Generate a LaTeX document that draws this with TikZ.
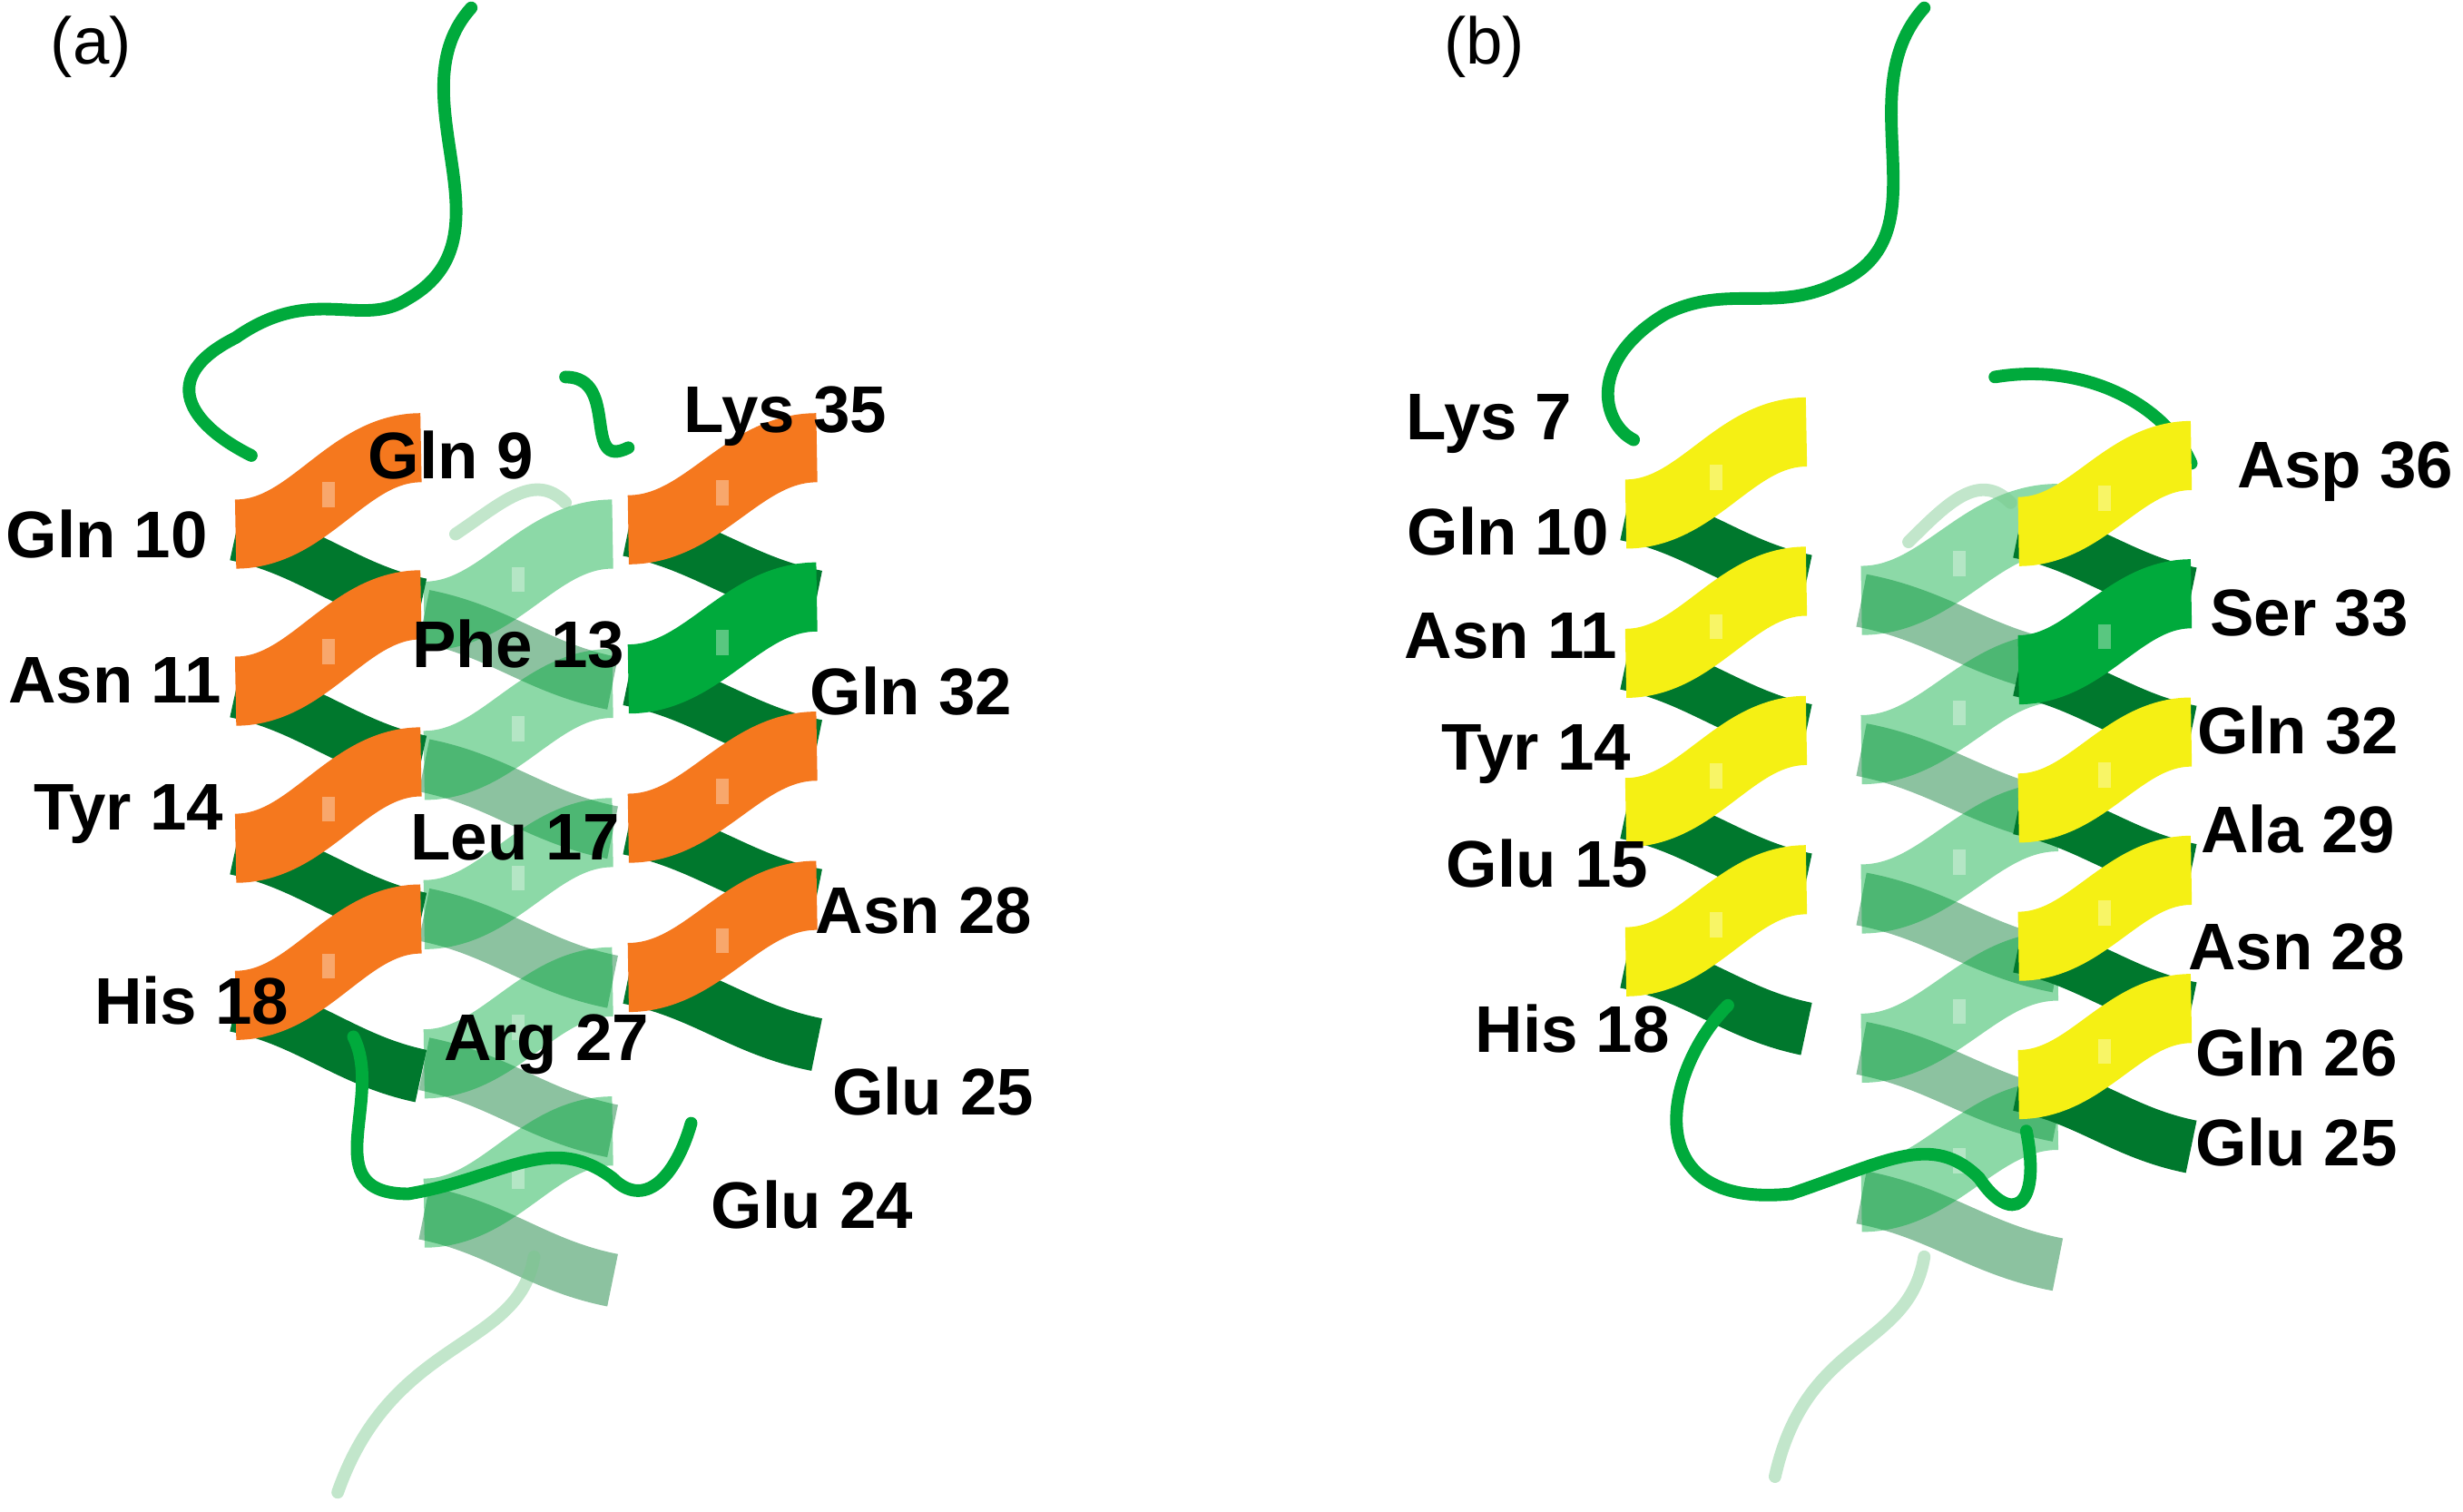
\documentclass[tikz,border=0pt]{standalone}
\usepackage{fontspec}
\setmainfont{Liberation Sans}
\definecolor{pg}{RGB}{0,170,60}
\definecolor{dg}{RGB}{0,120,45}
\definecolor{lg}{RGB}{120,200,140}
\definecolor{po}{RGB}{245,120,30}
\definecolor{py}{RGB}{245,240,20}
\tikzset{lbl/.style={font=\fontsize{21}{24}\selectfont\bfseries,inner sep=0pt},
 tag/.style={font=\fontsize{21}{24}\selectfont,inner sep=0pt},
 coil/.style={draw=pg,line width=4pt,line cap=round},
 fcoil/.style={draw=lg,line width=4pt,line cap=round}}
% helix: xL xR ytop pitch colors
\newcommand\myhelix[5]{%
 \foreach \c [count=\k from 0] in {#5} {
  \pgfmathsetmacro\ya{#3+\k*#4}
  \pgfmathsetmacro\yb{#3+(\k+1)*#4}
  \pgfmathsetmacro\ym{#3+(\k+0.55)*#4}
  \pgfmathsetmacro\w{(#2-#1)}
  \draw[dg,line width=17pt] (#2,\yb) .. controls (#2-\w*0.4,\yb-#4*0.1) and (#1+\w*0.4,\ym+#4*0.1) .. (#1,\ym);
  \draw[\c,line width=22pt] (#1,\ym) .. controls (#1+\w*0.4,\ym) and (#2-\w*0.4,\ya) .. (#2,\ya);
  \fill[white,opacity=0.35] (#1+\w*0.5-4,\ya+#4*0.22) rectangle ++(8,16);
 }}
\begin{document}
\begin{tikzpicture}[x=0.5pt,y=-0.5pt]
\useasboundingbox (0,0) rectangle (1568,962);
% ===== panel a =====
\begin{scope}
\draw[coil] (300,5) .. controls (250,60) and (330,150) .. (260,190) .. controls (230,210) and (200,180) .. (150,215) .. controls (100,240) and (120,270) .. (160,290);
\begin{scope}[opacity=0.45]
\myhelix{270}{390}{340}{95}{pg,pg,pg,pg,pg}
\draw[fcoil] (290,340) .. controls (320,320) and (340,300) .. (360,320);
\draw[fcoil] (340,800) .. controls (330,860) and (250,850) .. (215,950);
\end{scope}
\draw[coil] (360,240) .. controls (395,240) and (370,300) .. (400,285);
\myhelix{150}{268}{285}{100}{po,po,po,po}
\myhelix{400}{520}{285}{95}{po,pg,po,po}
\draw[coil] (225,660) .. controls (245,700) and (200,760) .. (260,760) .. controls (320,750) and (350,720) .. (390,750) .. controls (410,770) and (430,750) .. (440,715);
\node[tag] (ta) at (58,30) {(a)};
\node[lbl] (a1) at (287,290) {Gln 9};
\node[lbl] (a2) at (500,265) {Lys 35};
\node[lbl] (a3) at (68,340) {Gln 10};
\node[lbl] (a4) at (330,410) {Phe 13};
\node[lbl] (a5) at (580,440) {Gln 32};
\node[lbl] (a6) at (73,433) {Asn 11};
\node[lbl] (a7) at (82,518) {Tyr 14};
\node[lbl] (a8) at (328,533) {Leu 17};
\node[lbl] (a9) at (588,580) {Asn 28};
\node[lbl] (a10) at (122,637) {His 18};
\node[lbl] (a11) at (348,665) {Arg 27};
\node[lbl] (a12) at (594,695) {Glu 25};
\node[lbl] (a13) at (517,767) {Glu 24};
\end{scope}
% ===== panel b =====
\begin{scope}
\draw[coil] (1225,5) .. controls (1175,60) and (1240,150) .. (1170,180) .. controls (1130,200) and (1100,180) .. (1060,200) .. controls (1010,230) and (1020,270) .. (1040,280);
\begin{scope}[opacity=0.45]
\myhelix{1185}{1310}{330}{95}{pg,pg,pg,pg,pg}
\draw[fcoil] (1215,345) .. controls (1240,320) and (1260,300) .. (1280,320);
\draw[fcoil] (1225,800) .. controls (1215,860) and (1150,850) .. (1130,940);
\end{scope}
\draw[coil] (1270,240) .. controls (1330,230) and (1380,260) .. (1395,295);
\myhelix{1035}{1150}{275}{95}{py,py,py,py}
\myhelix{1285}{1395}{290}{88}{py,pg,py,py,py}
\draw[coil] (1100,640) .. controls (1060,680) and (1040,770) .. (1140,760) .. controls (1200,740) and (1230,720) .. (1260,750) .. controls (1280,780) and (1300,770) .. (1290,720);
\node[tag] (tb) at (945,30) {(b)};
\node[lbl] (b1) at (948,270) {Lys 7};
\node[lbl] (b2) at (1493,300) {Asp 36};
\node[lbl] (b3) at (960,338) {Gln 10};
\node[lbl] (b4) at (1470,390) {Ser 33};
\node[lbl] (b5) at (962,405) {Asn 11};
\node[lbl] (b6) at (1463,465) {Gln 32};
\node[lbl] (b7) at (978,480) {Tyr 14};
\node[lbl] (b8) at (1463,528) {Ala 29};
\node[lbl] (b9) at (985,550) {Glu 15};
\node[lbl] (b10) at (1462,603) {Asn 28};
\node[lbl] (b11) at (1001,655) {His 18};
\node[lbl] (b12) at (1462,670) {Gln 26};
\node[lbl] (b13) at (1462,727) {Glu 25};
\end{scope}
\end{tikzpicture}
\end{document}
